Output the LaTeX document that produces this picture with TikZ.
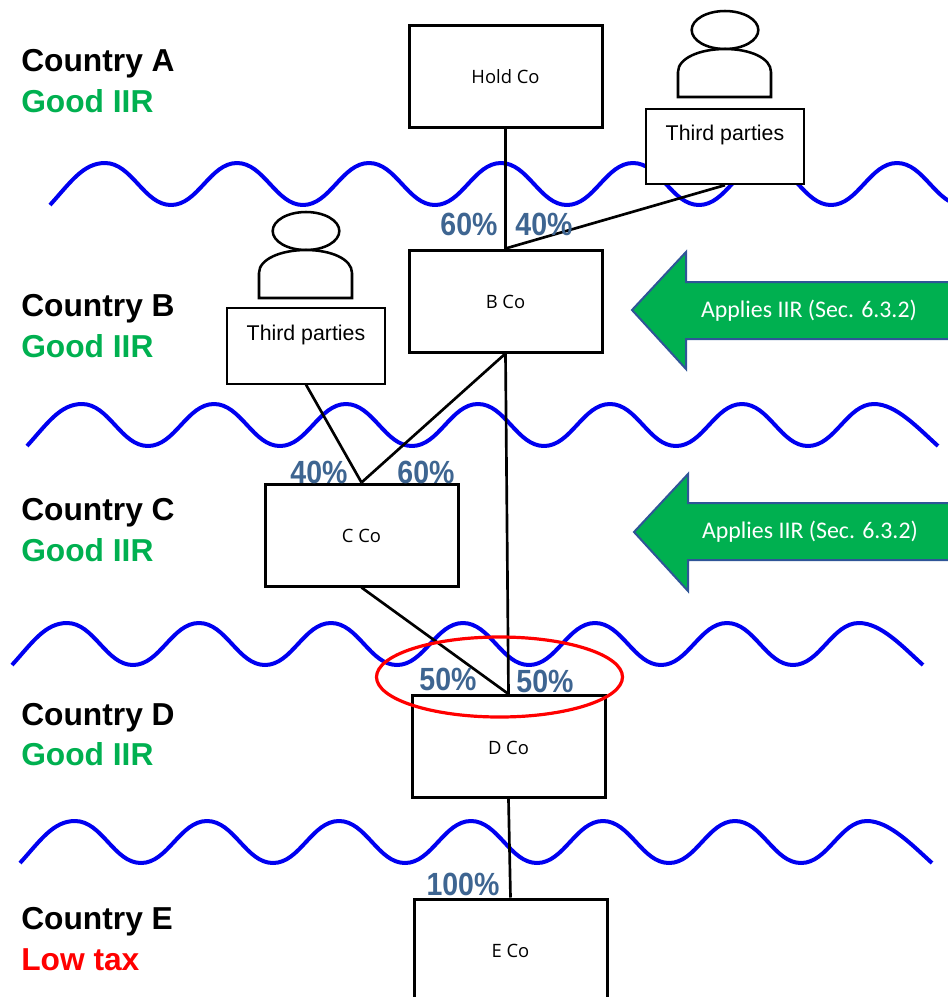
\documentclass[tikz,border=0pt]{standalone}
\usepackage{fontspec}
\usetikzlibrary{shapes.geometric}
\setmainfont{Liberation Sans}
\newfontfamily\calib{Carlito}
\newfontfamily\opens{Open Sans}
\definecolor{wavecol}{RGB}{0,0,240}
\definecolor{arrowgreen}{RGB}{0,176,80}
\definecolor{arrowedge}{RGB}{47,85,151}
\definecolor{pctcol}{RGB}{62,101,145}
\definecolor{goodgreen}{RGB}{0,176,80}
\tikzset{
  companybox/.style={draw=black,line width=2.25pt,fill=white,minimum width=144.75pt,minimum height=76.5pt,inner sep=0pt,text height=11.3pt,text depth=0pt,font=\opens\fontsize{13.8pt}{15pt}\selectfont},
  partybox/.style={draw=black,line width=1.5pt,fill=white,minimum width=118.5pt,minimum height=56.5pt,inner sep=0pt},
  partytext/.style={inner sep=0pt,font=\fontsize{16pt}{18pt}\selectfont},
  link/.style={draw=black,line width=2pt},
  wave/.style={draw=wavecol,line width=3pt,line join=round},
  country/.style={anchor=base west,inner sep=0pt,font=\bfseries\fontsize{23.8pt}{26pt}\selectfont},
  pct/.style={inner sep=0pt,text=pctcol,font=\bfseries\fontsize{22.5pt}{24pt}\selectfont,xscale=0.95,yscale=1.07,anchor=base},
  person/.style={draw=black,line width=1.9pt,fill=white},
  bigarrow/.style={draw=arrowedge,fill=arrowgreen,line width=1.5pt},
  arrowtext/.style={inner sep=0pt,text=white,font=\calib\fontsize{17.9pt}{20pt}\selectfont},
  halo/.style={draw=red,line width=2.4pt}
}
\newcommand{\wavepath}[4]{% start x, baseline y, half-periods, last piece
  \draw[wave] (#1,#2) .. controls ({#1+20},{#2-22}) and ({#1+33},{#2-42}) .. ({#1+55},{#2-42})
  \foreach \i in {1,...,#3}{
    .. controls ({#1+55+66*(\i-1)+27},{#2-42+42*mod(\i-1,2)}) and ({#1+55+66*\i-27},{#2-42*mod(\i-1,2)}) .. ({#1+55+66*\i},{#2-42*mod(\i-1,2)})
  }
  #4;
}
\begin{document}
\begin{tikzpicture}[x=0.75pt,y=-0.75pt]
\useasboundingbox (0,0) rectangle (948,997);
\clip (0,0) rectangle (948,997);
% borders between countries
\wavepath{50}{205}{13}{}
\wavepath{27}{446}{12}{.. controls (896,404) and (918,428) .. (938,446)}
\wavepath{12}{665}{12}{.. controls (881,623) and (903,647) .. (923,665)}
\wavepath{20}{863}{12}{.. controls (889,821) and (912,845) .. (932,863)}
% country labels
\node[country] (ca) at (21,71) {Country A};
\node[country,text=goodgreen] (ga) at (21,112) {Good IIR};
\node[country] (cb) at (21,316) {Country B};
\node[country,text=goodgreen] (gb) at (21,357) {Good IIR};
\node[country] (cc) at (21,520) {Country C};
\node[country,text=goodgreen] (gc) at (21,561) {Good IIR};
\node[country] (cd) at (21,725) {Country D};
\node[country,text=goodgreen] (gd) at (21,765) {Good IIR};
\node[country] (ce) at (21,929) {Country E};
\node[country,text=red] (ge) at (21,970) {Low tax};
% companies
\node[companybox] (hold) at (505.5,76) {Hold Co};
\node[companybox] (bco) at (505.5,301) {B Co};
\node[companybox] (cco) at (361.5,535) {C Co};
\node[companybox] (dco) at (508.5,746.5) {D Co};
\node[companybox] (eco) at (510.5,950) {E Co};
% third parties
\node[partybox] (tpa) at (725,146.5) {};
\node[partybox] (tpb) at (306,346) {};
\node[partytext] (tpatext) at (725,135) {Third parties};
\node[partytext] (tpbtext) at (306,335) {Third parties};
% persons
\node[person,ellipse,minimum width=50pt,minimum height=28.5pt,inner sep=0pt] (heada) at (725,30) {};
\draw[person] (678,97) -- (678,72) .. controls (678,58) and (700,49) .. (725,49) .. controls (750,49) and (771,58) .. (771,72) -- (771,97) -- cycle;
\node[person,ellipse,minimum width=50pt,minimum height=28.5pt,inner sep=0pt] (headb) at (306,231) {};
\draw[person] (259,298) -- (259,273) .. controls (259,259) and (281,250) .. (306,250) .. controls (331,250) and (352,259) .. (352,273) -- (352,298) -- cycle;
% connectors
\draw[link] (hold.south) -- (bco.north);
\draw[link] (tpa.south) -- (bco.north);
\draw[link] (tpb.south) -- (cco.north);
\draw[link] (bco.south) -- (cco.north);
\draw[link] (cco.south) -- (dco.north);
\draw[link] (bco.south) -- (dco.north);
\draw[link] (dco.south) -- (eco.north);
% applying-country arrows
\draw[bigarrow] (632,310) -- (686,252) -- (686,282) -- (960,282) -- (960,339) -- (686,339) -- (686,369) -- cycle;
\node[arrowtext] (arra) at (809,311) {Applies IIR (Sec. 6.3.2)};
\draw[bigarrow] (634,532) -- (688,474) -- (688,503) -- (960,503) -- (960,560) -- (688,560) -- (688,591) -- cycle;
\node[arrowtext] (arrb) at (810,532) {Applies IIR (Sec. 6.3.2)};
% percentages
\node[pct] (p1) at (469,235) {60\%};
\node[pct] (p2) at (544,235) {40\%};
\node[pct] (p3) at (319,483) {40\%};
\node[pct] (p4) at (426,483) {60\%};
\node[pct] (p5) at (448,690) {50\%};
\node[pct] (p6) at (545,692) {50\%};
\node[pct] (p7) at (463,895) {100\%};
% highlight
\draw[halo] (499.5,677) ellipse [x radius=123,y radius=40];
\end{tikzpicture}
\end{document}
